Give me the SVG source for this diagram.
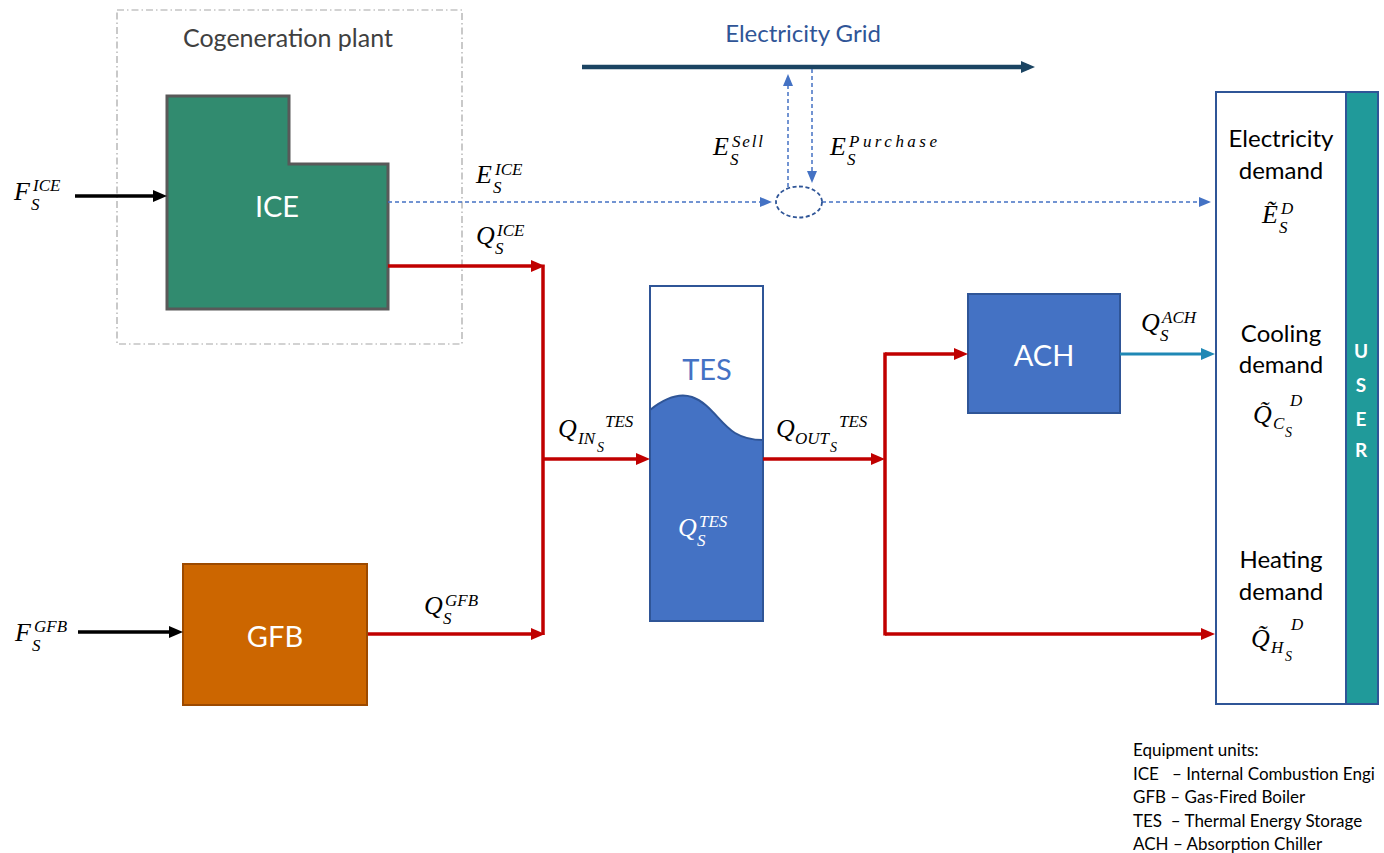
<svg xmlns="http://www.w3.org/2000/svg" width="1384" height="853" viewBox="0 0 1384 853">
<style>
.sans{font-family:Lato,"Open Sans","Liberation Sans",sans-serif}
.m{font-family:"Liberation Serif","DejaVu Serif",serif;font-style:italic;font-size:26px;fill:#000}
.sc{font-size:17px}
.s2{font-size:17px}
.ss{font-size:14px}
.dem{font-family:Lato,"Open Sans","Liberation Sans",sans-serif;font-size:24px;fill:#000;text-anchor:middle}
.unit{font-family:Lato,"Open Sans","Liberation Sans",sans-serif;font-size:29px;fill:#fff;text-anchor:middle}
.leg{font-family:Lato,"Open Sans","Liberation Sans",sans-serif;font-size:17px;fill:#000;white-space:pre}
.red{fill:none;stroke:#C00000;stroke-width:3.5}
.blk{fill:none;stroke:#000;stroke-width:3.5}
.bdash{fill:none;stroke:#4472C4;stroke-width:1.5;stroke-dasharray:4 3}
</style>
<defs>
<marker id="arR" markerWidth="14" markerHeight="12" refX="8" refY="6" orient="auto" markerUnits="userSpaceOnUse"><path d="M0,0 L14,6 L0,12 Z" fill="#C00000"/></marker>
<marker id="arK" markerWidth="14" markerHeight="12" refX="8" refY="6" orient="auto" markerUnits="userSpaceOnUse"><path d="M0,0 L14,6 L0,12 Z" fill="#000"/></marker>
<marker id="arB" markerWidth="12" markerHeight="10" refX="8" refY="5" orient="auto" markerUnits="userSpaceOnUse"><path d="M0,0 L12,5 L0,10 Z" fill="#4472C4"/></marker>
<marker id="arT" markerWidth="14" markerHeight="12" refX="8" refY="6" orient="auto" markerUnits="userSpaceOnUse"><path d="M0,0 L14,6 L0,12 Z" fill="#1F88B5"/></marker>
<marker id="arG" markerWidth="14" markerHeight="12" refX="8" refY="6" orient="auto" markerUnits="userSpaceOnUse"><path d="M0,0 L14,6 L0,12 Z" fill="#1B4462"/></marker>
</defs>
<rect width="1384" height="853" fill="#fff"/>

<g id="cogeneration">
<rect x="117" y="10" width="345" height="334" fill="none" stroke="#A6A6A6" stroke-width="1.2" stroke-dasharray="7 3 1.5 3"/>
<text class="sans" x="288" y="47" font-size="25" fill="#404040" text-anchor="middle">Cogeneration plant</text>
</g>

<g id="ice">
<path d="M167,96 H289 V164 H388 V309 H167 Z" fill="#318B6F" stroke="#595959" stroke-width="3"/>
<text class="unit" x="277" y="217">ICE</text>
</g>

<g id="gfb">
<rect x="183" y="564" width="184" height="141" fill="#CC6600" stroke="#9C4A00" stroke-width="2"/>
<text class="unit" x="275" y="647">GFB</text>
</g>

<g id="tes">
<rect x="650" y="286" width="113" height="335" fill="#fff" stroke="#2F5597" stroke-width="2"/>
<path d="M650,410 C665,398 680,393 692,397 C710,403 720,424 735,433 C745,439 755,440 763,440 V621 H650 Z" fill="#4472C4" stroke="#2F5597" stroke-width="2"/>
<text class="unit" x="707" y="380" style="fill:#4472C4">TES</text>
</g>

<g id="ach">
<rect x="968" y="294" width="152" height="119" fill="#4472C4" stroke="#2F5597" stroke-width="2"/>
<text class="unit" x="1044" y="366">ACH</text>
</g>

<g id="user">
<rect x="1216" y="92" width="130" height="612" fill="#fff" stroke="#2F5597" stroke-width="2"/>
<rect x="1346" y="92" width="32" height="612" fill="#209A9A" stroke="#2F5597" stroke-width="2"/>
<g class="sans" font-size="19" font-weight="bold" fill="#fff" text-anchor="middle">
<text x="1361" y="358">U</text>
<text x="1361" y="392">S</text>
<text x="1361" y="426">E</text>
<text x="1361" y="457">R</text>
</g>
<text class="dem" x="1281" y="147">Electricity</text>
<text class="dem" x="1281" y="179">demand</text>
<text class="dem" x="1281" y="342">Cooling</text>
<text class="dem" x="1281" y="373">demand</text>
<text class="dem" x="1281" y="568">Heating</text>
<text class="dem" x="1281" y="600">demand</text>
</g>

<g id="grid">
<text class="sans" x="803" y="42" font-size="24" fill="#2F5597" text-anchor="middle">Electricity Grid</text>
<path d="M582,67 H1029" fill="none" stroke="#1B4462" stroke-width="4.5" marker-end="url(#arG)"/>
</g>

<g id="connectors">
<path class="blk" d="M75,196 H161" marker-end="url(#arK)"/>
<path class="blk" d="M78,632 H177" marker-end="url(#arK)"/>
<path class="red" d="M388,266 H539" marker-end="url(#arR)"/>
<path class="red" d="M543,264.5 V635"/>
<path class="red" d="M368,634 H539" marker-end="url(#arR)"/>
<path class="red" d="M543,459 H644" marker-end="url(#arR)"/>
<path class="red" d="M763,459 H879" marker-end="url(#arR)"/>
<path class="red" d="M885,352.5 V635.5"/>
<path class="red" d="M885,354 H962" marker-end="url(#arR)"/>
<path class="red" d="M885,634 H1209" marker-end="url(#arR)"/>
<path d="M1120,354 H1209" fill="none" stroke="#1F88B5" stroke-width="3" marker-end="url(#arT)"/>
<path class="bdash" d="M388,202 H768" marker-end="url(#arB)"/>
<path class="bdash" d="M822,202 H1207" marker-end="url(#arB)"/>
<path class="bdash" d="M788,187 V78" marker-end="url(#arB)"/>
<path class="bdash" d="M812,69 V179" marker-end="url(#arB)"/>
<ellipse cx="799" cy="202" rx="23" ry="15.5" fill="#fff" stroke="#2F5597" stroke-width="1.8" stroke-dasharray="4 2.5"/>
</g>

<g id="labels">
<text class="m"><tspan x="14" y="200">F</tspan><tspan class="sc" x="31" y="210">S</tspan><tspan class="sc" x="33" y="191">ICE</tspan></text>
<text class="m"><tspan x="15" y="641">F</tspan><tspan class="sc" x="32" y="651">S</tspan><tspan class="sc" x="34" y="632">GFB</tspan></text>
<text class="m"><tspan x="476" y="183">E</tspan><tspan class="sc" x="493" y="193">S</tspan><tspan class="sc" x="495" y="175">ICE</tspan></text>
<text class="m"><tspan x="476" y="244">Q</tspan><tspan class="sc" x="495" y="254">S</tspan><tspan class="sc" x="497" y="236">ICE</tspan></text>
<text class="m"><tspan x="713" y="155">E</tspan><tspan class="sc" x="730" y="165">S</tspan><tspan class="sc" x="732" y="147" textLength="31" lengthAdjust="spacing">Sell</tspan></text>
<text class="m"><tspan x="830" y="155">E</tspan><tspan class="sc" x="847" y="165">S</tspan><tspan class="sc" x="849" y="147" textLength="88" lengthAdjust="spacing">Purchase</tspan></text>
<text class="m"><tspan x="558" y="437">Q</tspan><tspan class="s2" x="578" y="444">IN</tspan><tspan class="ss" x="597" y="452">S</tspan><tspan class="sc" x="605" y="427">TES</tspan></text>
<text class="m"><tspan x="776" y="437">Q</tspan><tspan class="s2" x="795" y="444">OUT</tspan><tspan class="ss" x="830" y="452">S</tspan><tspan class="sc" x="839" y="427">TES</tspan></text>
<text class="m" style="fill:#fff"><tspan x="678" y="536">Q</tspan><tspan class="sc" x="697" y="546">S</tspan><tspan class="sc" x="699" y="527">TES</tspan></text>
<text class="m"><tspan x="424" y="614">Q</tspan><tspan class="sc" x="443" y="624">S</tspan><tspan class="sc" x="445" y="606">GFB</tspan></text>
<text class="m"><tspan x="1141" y="331">Q</tspan><tspan class="sc" x="1160" y="341">S</tspan><tspan class="sc" x="1162" y="323">ACH</tspan></text>
<text class="m"><tspan x="1262" y="223">Ẽ</tspan><tspan class="sc" x="1279" y="233">S</tspan><tspan class="sc" x="1281" y="214">D</tspan></text>
<text class="m"><tspan x="1253" y="423">Q&#x303;</tspan><tspan class="s2" x="1273" y="429">C</tspan><tspan class="ss" x="1285" y="437">S</tspan><tspan class="sc" x="1290" y="406">D</tspan></text>
<text class="m"><tspan x="1251" y="647">Q&#x303;</tspan><tspan class="s2" x="1271" y="653">H</tspan><tspan class="ss" x="1285" y="661">S</tspan><tspan class="sc" x="1291" y="630">D</tspan></text>
</g>

<g id="legend">
<text class="leg" x="1133" y="756">Equipment units:</text>
<text class="leg" x="1133" y="780">ICE   – Internal Combustion Engi</text>
<text class="leg" x="1133" y="803">GFB – Gas-Fired Boiler</text>
<text class="leg" x="1133" y="827">TES  – Thermal Energy Storage</text>
<text class="leg" x="1133" y="850">ACH – Absorption Chiller</text>
</g>
</svg>
